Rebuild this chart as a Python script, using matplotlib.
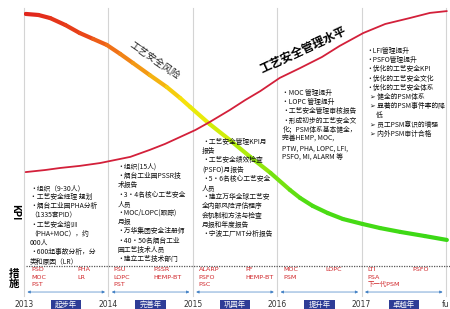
import numpy as np
import matplotlib
matplotlib.use('Agg')
import matplotlib.pyplot as plt
from matplotlib.collections import LineCollection
from matplotlib.colors import LinearSegmentedColormap
from matplotlib.patches import Rectangle

plt.rcParams['font.family'] = ['Noto Sans CJK SC', 'DejaVu Sans']

# ---- data ----
years = [2013, 2014, 2015, 2016, 2017, 2018]
year_labels = ['2013', '2014', '2015', '2016', '2017', 'fu']
phase_names = ['起步年', '完善年', '巩固年', '提升年', '卓越年']

# process safety risk (falling)
risk_x = [2013.02, 2013.17, 2013.31, 2013.49, 2013.66, 2013.82, 2013.98, 2014.14, 2014.29,
          2014.49, 2014.69, 2014.85, 2014.97, 2015.20, 2015.44, 2015.68, 2015.92, 2016.15,
          2016.27, 2016.42, 2016.60, 2016.78, 2017.01, 2017.22, 2017.46, 2017.75, 2018.01]
risk_y = [97.7, 97.3, 96.1, 93.4, 90.3, 88.0, 85.7, 82.2, 78.7,
          74.0, 69.4, 65.1, 61.6, 55.0, 48.8, 42.3, 36.1, 29.5,
          26.4, 23.3, 20.5, 18.2, 16.3, 14.7, 13.2, 11.6, 10.1]

# process safety management level (rising)
mgmt_x = [2013.02, 2013.25, 2013.43, 2013.66, 2013.90, 2014.08, 2014.26, 2014.49, 2014.67,
          2014.85, 2015.03, 2015.20, 2015.44, 2015.62, 2015.80, 2016.03, 2016.27, 2016.53,
          2016.74, 2017.02, 2017.28, 2017.57, 2017.81, 2018.01]
mgmt_y = [36.4, 37.2, 38.0, 38.8, 39.9, 41.1, 42.3, 45.0, 47.3,
          50.0, 52.7, 55.8, 60.5, 64.3, 67.8, 72.9, 76.7, 81.0,
          85.3, 90.3, 93.8, 96.1, 98.1, 98.8]

blocks = [
    "•组织（9-30人）\n•工艺安全经理 规划\n•烟台工业园PHA分析\n（1335套PID）\n•工艺安全培训\n"
    "（PHA+MOC），约\n000人\n•600起事故分析，分\n类和原因（LR）",
    "•组织(15人)\n•烟台工业园PSSR技\n术报告\n•3・4名核心工艺安全\n人员\n•MOC/LOPC(跟踪)\n月报\n"
    "•万华集团安全注册师\n•40・50名烟台工业\n园工艺技术人员\n•建立工艺技术部门",
    "•工艺安全管理KPI月\n报告\n•工艺安全绩效检查\n(PSFO)月报告\n•5・6名核心工艺安全\n人员\n"
    "•建立万华全球工艺安\n全内部风险评估程序\n会机制和方法与检查\n月报和年度报告\n•宁波工厂MT分析报告",
    "•MOC 管理提升\n•LOPC 管理提升\n•工艺安全管理审核报告\n•形成初步的工艺安全文\n"
    "化；PSM体系基本健全，\n完善HEMP, MOC,\nPTW, PHA, LOPC, LFI,\nPSFO, MI, ALARM 等",
    "•LFI管理提升\n•PSFO管理提升\n•优化的工艺安全KPI\n•优化的工艺安全文化\n•优化的工艺安全体系\n"
    "  ➢ 健全的PSM体系\n  ➢ 显著的PSM事件率的降\n      低\n  ➢ 员工PSM意识的增强\n  ➢ 内外PSM审计合格",
]
block_pos = [(2013.07, 31.8), (2014.11, 39.9), (2015.11, 49.6), (2016.06, 68.6), (2017.06, 84.9)]

# measures per phase: columns of rows
measures = [
    [['PSD', 'MOC', 'PST'], ['PHA', 'LR']],
    [['PSU', 'LOPC', 'PST'], ['PSSR', 'HEMP-BT']],
    [['ALARP', 'PSFO', 'PSC'], ['PF', 'HEMP-BT']],
    [['MOC', 'PSM'], ['LOPC']],
    [['LTI', 'PSA', '下一代PSM'], ['PSFO']],
]
meas_col_off = [(0.09, 0.63), (0.06, 0.53), (0.07, 0.62), (0.07, 0.57), (0.07, 0.60)]

# ---- figure ----
W, H = 450, 309
fig = plt.figure(figsize=(W / 100, H / 100), dpi=100)
x0 = 24 / W
ax = fig.add_axes([x0, 43 / H, 1 - x0, 258 / H])
axb = fig.add_axes([x0, 0, 1 - x0, 43 / H])
xmax = 2013 + 426 / 84.4
for a in (ax, axb):
    a.set_xlim(2013, xmax)
    a.axis('off')
ax.set_ylim(0, 100)
axb.set_ylim(1, 0)

for yr in years:
    ax.plot([yr, yr], [0, 100], color='#d4d4d4', lw=0.8, zorder=1, clip_on=False)
    axb.plot([yr, yr], [0, 0.7], color='#d4d4d4', lw=0.8, zorder=1, clip_on=False)

# management level curve
ax.plot(mgmt_x, mgmt_y, color='#d3203a', lw=1.3, zorder=3, solid_capstyle='round')

# risk curve with red->yellow->green gradient
cmap = LinearSegmentedColormap.from_list('risk', [
    (0.00, '#e0221c'), (0.14, '#e94418'), (0.20, '#ef6a18'), (0.30, '#f4a614'),
    (0.39, '#f6e80a'), (0.48, '#c8ee0a'), (0.58, '#84e40e'), (0.68, '#4cdc14'),
    (1.00, '#3ad816')])
pts = np.column_stack([risk_x, risk_y])
segs = np.stack([pts[:-1], pts[1:]], axis=1)
mids = (np.array(risk_x[:-1]) + np.array(risk_x[1:])) / 2
lc = LineCollection(segs, colors=cmap((mids - 2013) / 5), linewidths=3.0,
                    capstyle='round', joinstyle='round', zorder=2)
ax.add_collection(lc)

ax.text(2016.31, 83.7, '工艺安全管理水平', rotation=25, fontsize=8.5, fontweight='bold',
        ha='center', va='center', rotation_mode='anchor', zorder=5)
ax.text(2014.55, 79.8, '工艺安全风险', rotation=-35, fontsize=7, color='#222222',
        ha='center', va='center', rotation_mode='anchor', zorder=5)

for (bx, by), txt in zip(block_pos, blocks):
    ax.text(bx, by, txt, fontsize=4.9, ha='left', va='top', linespacing=1.2,
            color='#111111', zorder=5)

fig.text(15 / W, 1 - 212 / H, 'KPI', rotation=270, fontsize=7, fontweight='bold',
         ha='center', va='center')
fig.text(14 / W, 1 - 279 / H, '措\n施', fontsize=7.5, fontweight='bold',
         ha='center', va='center', linespacing=1.05)

# bottom band
axb.plot([2013.02, xmax], [0.0, 0.0], color='#555555', lw=0.9, ls=(0, (1, 1)), clip_on=False)
row_y = [0.093, 0.256, 0.42]
for i, (cols, offs) in enumerate(zip(measures, meas_col_off)):
    for col, off in zip(cols, offs):
        for r, m in enumerate(col):
            axb.text(years[i] + off, row_y[r], m, fontsize=4.6, color='#d0262a',
                     ha='left', va='center', family=['DejaVu Sans', 'Noto Sans CJK SC'])
    axb.annotate('', xy=(years[i] + 0.96, 0.605), xytext=(years[i] + 0.04, 0.605),
                 arrowprops=dict(arrowstyle='<|-|>', color='#3f7fc4', lw=0.5,
                                 mutation_scale=4, shrinkA=0, shrinkB=0))
    axb.add_patch(Rectangle((years[i] + 0.5 - 0.18, 0.79), 0.36, 0.4, fc='#2e3c96',
                            ec='none', clip_on=False))
    axb.text(years[i] + 0.5, 0.9, phase_names[i], fontsize=5.3, color='white',
             ha='center', va='center')

for yr, lab in zip(years, year_labels):
    axb.text(yr, 0.9, lab, fontsize=5.5, color='#333333', ha='center', va='center',
             family=['DejaVu Sans'])

fig.savefig('out.png', dpi=100)
